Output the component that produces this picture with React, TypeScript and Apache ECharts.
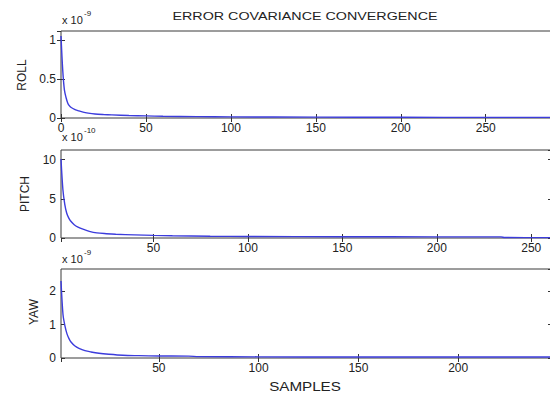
import React, { useEffect, useRef } from "react";
import * as echarts from "echarts";

// ROLL (x 1e-9)
const rollX = [0, 1, 2, 3, 4, 5, 6, 8, 10, 13, 16, 20, 25, 30, 40, 50, 60, 80, 100, 150, 200, 250, 289];
const rollY = [1.05, 0.62, 0.36, 0.26, 0.19, 0.155, 0.135, 0.11, 0.095, 0.075, 0.063, 0.052, 0.045, 0.04, 0.032, 0.027, 0.022, 0.017, 0.014, 0.011, 0.009, 0.008, 0.008];
// PITCH (x 1e-10)
const pitchX = [1, 2, 3, 4, 5, 6, 8, 10, 13, 16, 20, 25, 30, 40, 50, 60, 80, 100, 150, 200, 234, 236, 261];
const pitchY = [10.1, 6.2, 4.3, 3.2, 2.6, 2.2, 1.7, 1.4, 1.1, 0.85, 0.65, 0.55, 0.48, 0.4, 0.33, 0.28, 0.22, 0.19, 0.16, 0.15, 0.14, 0.06, 0.05];
// YAW (x 1e-9)
const yawX = [1, 2, 3, 4, 5, 6, 8, 10, 13, 16, 20, 25, 32, 40, 50, 65, 70, 100, 150, 200, 247];
const yawY = [2.3, 1.3, 0.95, 0.72, 0.58, 0.48, 0.36, 0.29, 0.22, 0.18, 0.14, 0.11, 0.08, 0.07, 0.06, 0.055, 0.04, 0.035, 0.03, 0.03, 0.03];

const panelNames = ["ROLL", "PITCH", "YAW"];
const exponents = ["-9", "-10", "-9"];
const xRanges = [[0, 289], [1, 261], [1, 247]];
const yRanges = [[0, 1.115], [0, 11.24], [0, 2.66]];
const yIntervals = [0.5, 5, 1];
const titleText = "ERROR COVARIANCE CONVERGENCE";
const xLabelText = "SAMPLES";

const FONT = "'Liberation Sans', Arial, sans-serif";

export default function App() {
  const ref = useRef<HTMLDivElement>(null);
  useEffect(() => {
    if (!ref.current) return;
    const chart = echarts.init(ref.current, null, { renderer: "svg" });
    const grids = [
      { left: 61, width: 491, top: 31, height: 87 },
      { left: 61, width: 491, top: 150, height: 88 },
      { left: 61, width: 491, top: 269, height: 89 },
    ].map((g) => ({
      ...g,
      show: true,
      borderColor: "#3a3a3a",
      borderWidth: 1,
      backgroundColor: "#fff",
      containLabel: false,
      outerBoundsMode: "none",
    }));

    const xAxis: any[] = [];
    const yAxis: any[] = [];
    for (let i = 0; i < 3; i++) {
      const [xmin, xmax] = xRanges[i];
      const common = {
        type: "value",
        gridIndex: i,
        min: xmin,
        max: xmax,
        splitLine: { show: false },
        axisLine: { show: false },
        axisTick: { show: true, inside: true, length: 4, lineStyle: { color: "#333" } },
      };
      xAxis.push({
        ...common,
        position: "bottom",
        ...(xmin === 0 ? { interval: 50 } : {}),
        axisLabel: {
          show: true,
          margin: 4,
          fontSize: 12,
          fontFamily: FONT,
          color: "#222",
          showMinLabel: xmin === 0,
          showMaxLabel: false,
        },
      });
      xAxis.push({
        ...common,
        position: "top",
        ...(xmin === 0 ? { interval: 50 } : {}),
        axisLabel: { show: false },
      });
      const [ymin, ymax] = yRanges[i];
      const ycommon = {
        type: "value",
        gridIndex: i,
        min: ymin,
        max: ymax,
        interval: yIntervals[i],
        splitLine: { show: false },
        axisLine: { show: false },
        axisTick: { show: true, inside: true, length: 4, lineStyle: { color: "#333" } },
      };
      yAxis.push({
        ...ycommon,
        position: "left",
        axisLabel: {
          show: true,
          margin: 5,
          fontSize: 12,
          fontFamily: FONT,
          color: "#222",
          showMaxLabel: false,
        },
      });
      yAxis.push({ ...ycommon, position: "right", axisLabel: { show: false } });
    }

    const datasets = [
      rollX.map((x, k) => [x, rollY[k]]),
      pitchX.map((x, k) => [x, pitchY[k]]),
      yawX.map((x, k) => [x, yawY[k]]),
    ];
    const series = datasets.map((d, i) => ({
      type: "line",
      xAxisIndex: i * 2,
      yAxisIndex: i * 2,
      data: d,
      showSymbol: false,
      smooth: 0.3,
      lineStyle: { color: "#3c3cdc", width: 1.4 },
      clip: true,
    }));

    const ylabelPos = [
      [22, 75],
      [25, 194],
      [34, 312],
    ];
    const expY = [20, 137, 259];
    const graphic: any[] = [
      {
        type: "text",
        x: 305,
        y: 16,
        scaleX: 1.3,
        style: { text: titleText, font: `11px ${FONT}`, fill: "#222", textAlign: "center", textVerticalAlign: "middle" },
      },
      {
        type: "text",
        x: 305,
        y: 386,
        scaleX: 1.17,
        style: { text: xLabelText, font: `13px ${FONT}`, fill: "#222", textAlign: "center", textVerticalAlign: "middle" },
      },
    ];
    for (let i = 0; i < 3; i++) {
      graphic.push({
        type: "text",
        x: ylabelPos[i][0],
        y: ylabelPos[i][1],
        rotation: Math.PI / 2,
        style: { text: panelNames[i], font: `12px ${FONT}`, fill: "#222", textAlign: "center", textVerticalAlign: "middle" },
      });
      graphic.push({
        type: "text",
        x: 62,
        y: expY[i],
        style: { text: "x 10", font: `11px ${FONT}`, fill: "#222", textAlign: "left", textVerticalAlign: "middle" },
      });
      graphic.push({
        type: "text",
        x: 84,
        y: expY[i] - 7,
        style: { text: exponents[i], font: `8px ${FONT}`, fill: "#222", textAlign: "left", textVerticalAlign: "middle" },
      });
    }

    chart.setOption({
      animation: false,
      backgroundColor: "#fff",
      grid: grids,
      xAxis,
      yAxis,
      series,
      graphic,
    });
    return () => chart.dispose();
  }, []);
  return <div ref={ref} style={{ position: "fixed", left: 0, top: 0, width: 550, height: 394 }} />;
}
